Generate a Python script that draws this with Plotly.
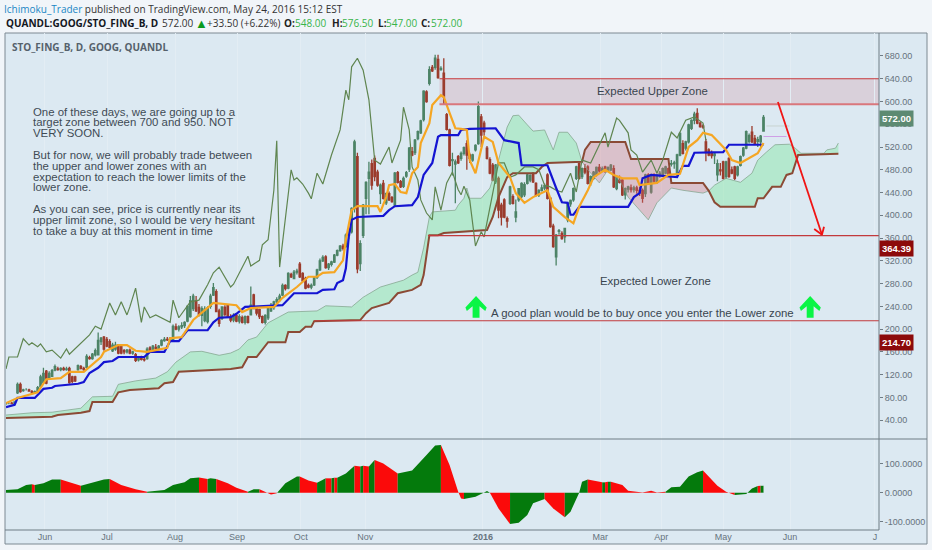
import plotly.graph_objects as go

# daily candles, one per bar
opens = [69,70,70,69,88,103,92,94,93,90,
    89,90,99,106,126,114,117,128,130,129,
    131,129,131,116,116,129,134,131,133,150,
    148,155,155,178,186,182,178,162,165,172,
    170,162,160,163,158,155,146,150,147,148,
    167,162,168,166,172,180,182,181,182,204,
    200,204,206,214,222,236,250,238,224,215,
    213,240,260,266,232,219,238,242,222,216,
    224,214,220,212,222,225,260,236,234,222,
    212,220,232,238,248,252,260,277,272,296,
    289,300,314,298,289,277,274,278,291,304,
    320,327,308,314,318,330,338,346,345,365,
    371,412,503,315,365,430,465,491,500,476,
    438,456,422,438,431,418,475,459,451,469,
    481,512,510,535,545,568,617,632,660,660,
    674,656,650,577,550,496,490,503,500,509,
    526,506,497,515,526,573,562,518,498,488,
    459,465,418,427,394,421,433,397,427,433,
    436,456,462,474,456,436,444,448,471,430,
    381,327,372,368,362,392,420,427,465,491,
    468,482,485,456,465,472,484,478,485,478,
    480,482,447,462,462,436,446,448,445,448,
    444,444,438,471,441,470,459,470,471,474,
    482,490,491,471,506,526,518,529,553,567,
    579,562,557,529,515,510,505,471,480,494,
    468,500,480,485,471,488,506,518,530,546,
    535,530,529,548]
highs = [72,71,72,72,106,106,95,96,95,93,
    92,100,120,132,128,126,130,138,134,133,
    134,134,134,118,118,138,137,134,156,153,
    158,166,194,186,188,186,182,176,178,174,
    172,165,165,166,162,158,152,153,152,168,
    170,172,174,172,182,186,186,186,208,210,
    207,212,214,242,258,262,258,244,240,240,
    240,262,281,270,236,240,242,244,226,228,
    227,226,224,224,224,275,262,240,236,224,
    226,240,246,250,256,262,280,279,300,299,
    304,306,318,300,292,280,280,292,306,324,
    330,330,316,320,332,340,348,350,368,374,
    414,533,510,356,420,460,494,498,505,480,
    456,462,440,442,434,476,478,462,468,478,
    520,520,534,549,568,620,620,662,664,682,
    682,662,676,580,552,510,498,506,512,521,
    532,510,508,525,600,578,566,522,502,492,
    490,468,422,430,398,452,437,428,448,458,
    458,473,472,476,458,446,454,456,474,432,
    385,367,376,372,378,423,428,449,487,493,
    484,490,488,470,478,486,490,486,487,486,
    490,488,470,470,464,449,452,454,452,452,
    450,447,473,474,473,474,473,478,484,487,
    484,497,496,508,546,532,531,561,569,582,
    588,565,560,534,518,514,510,498,492,496,
    496,502,486,487,487,505,520,549,544,557,
    541,538,541,576.5]
lows = [67,68,68,67,86,88,90,92,90,87,
    87,88,97,104,103,112,116,126,127,126,
    127,127,104,105,107,127,129,127,131,146,
    146,152,154,172,162,168,166,160,162,156,
    156,156,157,156,155,142,143,145,143,146,
    158,160,164,163,170,178,179,178,180,198,
    196,200,202,212,220,232,230,222,205,212,
    210,236,258,230,204,216,222,220,212,212,
    212,210,210,208,210,224,235,224,218,210,
    208,216,230,234,244,248,258,268,270,290,
    288,296,290,284,270,272,270,276,288,302,
    318,306,304,310,316,328,336,338,343,358,
    368,405,298,302,360,402,402,445,460,450,
    420,428,418,425,422,416,456,448,448,466,
    476,504,506,532,543,565,598,628,652,656,
    640,654,595,549,486,470,421,490,496,505,
    480,492,494,512,524,520,540,498,472,460,
    455,395,382,395,378,418,419,388,424,430,
    432,454,458,457,433,432,442,444,428,378,
    343,312,366,357,352,388,415,424,462,463,
    464,472,454,452,462,468,474,476,475,476,
    478,448,444,456,434,428,440,440,440,438,
    434,422,432,454,438,456,455,466,468,472,
    469,486,482,468,504,507,514,526,550,560,
    560,554,552,495,504,500,490,460,470,463,
    464,466,472,462,468,486,503,516,526,527,
    524,520,520,547]
closes = [70,70,69,72,103,90,93,94,91,89,
    90,97,116,122,105,122,127,134,129,131,
    129,130,106,108,109,136,131,129,152,148,
    156,162,180,184,165,170,168,172,172,158,
    158,160,163,158,160,145,150,147,146,165,
    160,170,166,170,180,182,181,184,205,200,
    204,206,212,240,250,258,232,226,236,235,
    237,258,273,231,210,239,226,222,216,224,
    214,222,212,222,212,242,236,228,222,212,
    224,238,240,248,252,258,277,271,298,292,
    300,302,292,285,272,274,277,290,304,320,
    326,308,314,318,330,338,346,342,365,371,
    412,529,306,350,418,458,476,453,468,453,
    453,430,438,427,424,474,458,450,465,475,
    518,506,532,547,566,618,600,656,654,676,
    642,658,608,551,488,498,494,492,509,519,
    506,500,506,523,591,541,547,500,474,462,
    488,409,397,397,390,450,421,406,447,456,
    454,471,470,459,435,444,448,452,430,380,
    345,365,373,359,377,421,426,447,485,465,
    482,476,456,468,476,484,478,482,477,484,
    488,450,468,458,436,447,450,445,448,444,
    440,430,471,456,471,460,471,474,482,485,
    471,491,492,506,544,509,529,559,567,578,
    562,556,555,510,506,505,508,491,478,465,
    494,468,474,465,485,503,518,547,540,529,
    526,533,539,572]

# ichimoku lines, (bar, price)
chikou_bars = [0,1,4,6,8,9,11,12,14,16,19,21,22,26,29,31,33,36,38,40,42,43,45,47,48,50,52,57,58,60,64,67,70,72,74,78,79,84,85,88,89,91,93,94,95,99,100,101,103,105,106,108,110,113,116,118,119,120,122,124,126,128,130,133,134,137,138,140,141,143,144,146,148,149,151,153,155,157,158,159,161,163,165,166,167,169,171,173,175,177,180,183,185,187,189,191,193,196,198,200,203,208,209,212,213,216,217,219,221,224,226,228,231,233,236,239,242,243]
chikou_vals = [130,151,151,183,172,176,169,174,160,163,149,165,156,176,190,205,200,246,225,248,225,239,272,212,239,220,225,212,251,220,248,251,278,299,309,274,279,328,311,321,348,357,444,531,309,480,462,466,455,439,429,474,455,506,550,620,603,661,676,655,603,497,490,520,492,532,590,550,485,462,427,404,392,450,409,457,476,445,436,451,427,346,371,362,386,439,492,492,467,471,485,485,480,453,450,444,441,474,441,497,492,545,520,571,567,545,515,506,476,497,474,497,546,536,567,573,562,532]

tenkan_bars = [0,4,11,14,19,22,27,33,34,39,42,45,49,56,57,61,65,72,80,82,85,93,96,101,105,108,110,114,117,118,120,122,129,130,132,133,135,137,139,141,143,144,147,148,151,152,154,156,158,160,161,163,166,169,171,175,177,180,183,188,190,194,197,199,202,204,208,211,214,219,220,226,230,234,237,240,242,245,250,252,255,258,261,263]
tenkan_vals = [70,79,89,112,114,125,125,151,160,172,172,162,160,167,184,186,216,246,242,230,237,239,255,274,292,292,299,300,321,357,409,416,416,406,432,453,455,441,439,474,485,527,562,594,611,608,580,553,552,550,497,474,538,529,492,467,439,422,432,444,415,397,386,415,444,467,480,471,465,465,453,457,471,473,520,532,545,541,515,497,492,501,509,527]

kijun_bars = [0,3,4,10,13,16,17,25,27,29,32,34,37,39,48,50,55,57,60,63,70,72,74,78,80,83,96,100,108,110,114,115,117,118,119,120,122,131,133,135,141,143,145,148,150,151,157,158,161,170,173,178,179,188,191,193,195,196,197,199,216,218,220,221,224,231,233,235,237,239,249,251,263]
kijun_vals = [63,67,79,79,95,97,100,104,107,123,132,142,144,151,151,160,160,179,179,198,198,212,220,221,227,239,242,263,263,269,270,281,286,307,362,392,397,399,409,416,418,432,471,492,538,541,541,550,552,553,532,527,488,488,448,423,422,401,401,415,415,432,439,465,471,467,467,487,487,510,511,524,524]

senkou_a_bars = [0,9,16,26,30,37,39,45,52,56,59,64,68,74,78,81,84,87,91,98,108,111,120,124,130,138,141,143,145,147,148,156,157,159,160,161,165,168,171,174,176,178,181,183,187,190,192,195,198,200,202,206,209,213,216,219,223,226,231,235,242,244,246,250,255,259,261,264,267,272,274,276,284,285,288,289]
senkou_a_vals = [49,53,54,61,81,82,103,109,114,125,142,160,161,154,158,165,181,186,211,230,232,241,239,256,274,286,295,300,343,397,406,409,418,430,448,430,430,448,497,555,575,576,559,548,550,515,546,546,527,494,480,457,480,462,432,415,392,422,448,444,439,443,453,465,458,474,497,511,524,525,518,509,509,515,518,527]

senkou_b_bars = [0,16,18,26,29,30,37,39,43,53,55,58,60,78,82,84,87,91,97,98,102,104,106,107,123,125,127,133,136,141,144,145,147,150,152,167,169,171,174,176,184,186,188,200,201,203,215,217,230,231,242,244,246,248,260,261,263,266,269,271,273,275,289]
senkou_b_vals = [44,46,49,53,56,72,72,89,93,96,105,107,125,130,133,151,151,177,177,195,195,204,204,214,216,228,237,246,263,269,278,295,365,365,369,374,397,432,467,474,474,485,492,494,515,529,529,499,499,457,457,443,423,415,415,430,430,450,450,471,474,506,508]

cloud_turns = [200, 244]

# oscillator pane, colour applies from that point on (1 green, 0 red)
osc_bars = [0,4,7,9,10,13,16,19,23,26,30,34,36,40,45,49,55,58,62,64,67,70,71,73,77,80,84,86,88,91,92,94,97,101,102,105,108,111,113,114,115,118,121,123,124,126,128,131,136,141,146,149,151,154,157,158,159,163,166,167,168,171,175,178,181,183,187,190,194,196,199,200,202,207,208,209,210,214,216,221,224,226,229,231,234,237,240,242,247,250,253,257,259,261,262,263]
osc_vals = [9,12,27,29,27,33,46,46,33,24,36,46,48,27,12,3,9,27,36,50,53,48,50,48,33,17,3,12,12,-2,-6,-2,33,56,56,42,35,50,50,52,52,67,94,91,94,91,114,102,67,77,131,164,166,96,3,-20,-22,-14,1,6,0,-55,-109,-105,-78,-37,-22,-55,-86,-66,0,38,46,36,36,38,38,27,7,1,7,1,3,19,21,56,71,77,24,3,-8,-5,15,23,24,24]
osc_up = [1,1,1,0,1,1,1,0,0,1,1,1,0,0,0,1,1,1,1,1,0,1,1,0,0,0,1,1,0,0,0,1,1,1,0,0,1,0,1,0,1,1,0,1,0,1,0,0,1,1,1,1,0,0,0,0,1,1,1,1,0,0,1,1,1,1,0,0,1,1,1,1,0,1,0,1,0,0,0,0,0,0,1,1,1,1,1,0,0,0,1,1,1,0,1,1]

price_ticks = [40,80,120,160,200,240,280,320,360,400,440,480,520,560,600,640,680]
osc_ticks = [100,0,-100]
osc_tick_text = ["100.0000","0.0000","-100.0000"]
month_bars = [13.5,35.1,58.7,80.2,102.3,124.7,165.6,206.3,227.5,249,272.2,301.7]
month_text = ["Jun","Jul","Aug","Sep","Oct","Nov","<b>2016</b>","Mar","Apr","May","Jun","J"]

upper_zone = [595, 640]
lower_zone = [214.7, 364.39]

paragraph = [
    ("One of these days, we are going up to a", 111.5),
    ("target zone between 700 and 950. NOT", 122.3),
    ("VERY SOON.", 133),
    ("But for now, we will probably trade between", 155),
    ("the upper and lower zones with an", 165.8),
    ("expectation to reach the lower limits of the", 176.6),
    ("lower zone.", 187.4),
    ("As you can see, price is currently near its", 209),
    ("upper limit zone, so I would be very hesitant", 219.8),
    ("to take a buy at this moment in time", 230.6),
]

header = [
    ("<b>QUANDL:GOOG/STO_FING_B, D</b>", 6, "#131722", 10),
    ("572.00", 162, "#333333", 10),
    ("▲", 195, "#0a9a1e", 13),
    ("+33.50 (+6.22%)", 207, "#333333", 10),
    ("<b>O:</b>", 284, "#222222", 10),
    ("548.00", 295, "#37b44a", 10),
    ("<b>H:</b>", 332, "#222222", 10),
    ("576.50", 342, "#37b44a", 10),
    ("<b>L:</b>", 378, "#222222", 10),
    ("547.00", 386, "#37b44a", 10),
    ("<b>C:</b>", 421, "#222222", 10),
    ("572.00", 431, "#37b44a", 10),
]

W, H = 932, 550
BG = "#dce9f2"
SANS = "Liberation Sans"


def px(x):
    return x / W


def py(y):
    return 1 - y / H


def label(text, x, y, size=11.4, color="#39454f", anchor="left", family=SANS, **kw):
    # annotations carry about 2px of padding on the left
    if anchor == "left":
        x -= 2
    return dict(text=text, x=px(x), y=py(y), xref="paper", yref="paper", showarrow=False,
                xanchor=anchor, yanchor="middle", font=dict(size=size, color=color, family=family), **kw)


def slice_points(bars, vals, lo, hi):
    keep = [(b, v) for b, v in zip(bars, vals) if lo <= b <= hi]
    return [k[0] for k in keep], [k[1] for k in keep]


fig = go.Figure()

fig.add_trace(go.Candlestick(
    x=list(range(len(closes))), open=opens, high=highs, low=lows, close=closes,
    increasing=dict(line=dict(color="#4c8366", width=1.3), fillcolor="#4c8366"),
    decreasing=dict(line=dict(color="#9b3b2c", width=1.3), fillcolor="#9b3b2c"),
    whiskerwidth=0, xaxis="x", yaxis="y",
))

# cloud pieces, green until the first turn, red to the second, then green
spans = [(0, cloud_turns[0], "rgba(110,230,140,0.36)"),
         (cloud_turns[0], cloud_turns[1], "rgba(215,110,120,0.32)"),
         (cloud_turns[1], senkou_a_bars[-1], "rgba(110,230,140,0.36)")]
for lo, hi, col in spans:
    ax, ay = slice_points(senkou_a_bars, senkou_a_vals, lo, hi)
    bx, by = slice_points(senkou_b_bars, senkou_b_vals, lo, hi)
    fig.add_trace(go.Scatter(x=ax + bx[::-1], y=ay + by[::-1], mode="lines", fill="toself",
                             fillcolor=col, line=dict(width=0), hoverinfo="skip"))

fig.add_trace(go.Scatter(x=senkou_a_bars, y=senkou_a_vals, mode="lines",
                         line=dict(color="rgba(125,160,135,0.7)", width=1)))
fig.add_trace(go.Scatter(x=senkou_b_bars, y=senkou_b_vals, mode="lines",
                         line=dict(color="#8b4a35", width=2)))
fig.add_trace(go.Scatter(x=chikou_bars, y=chikou_vals, mode="lines",
                         line=dict(color="#5f8550", width=1.2)))
fig.add_trace(go.Scatter(x=kijun_bars, y=kijun_vals, mode="lines",
                         line=dict(color="#1414d2", width=2.2)))
fig.add_trace(go.Scatter(x=tenkan_bars, y=tenkan_vals, mode="lines",
                         line=dict(color="#f5a623", width=2.2)))

# little marks right of the last bar
fig.add_trace(go.Scatter(x=[264, 272], y=[557, 557], mode="lines", line=dict(color="#c9d3d0", width=1)))
fig.add_trace(go.Scatter(x=[263, 271], y=[538.5, 538.5], mode="lines", line=dict(color="#cf9fe6", width=1)))

# oscillator, one filled piece per colour run
start = 0
for i in range(1, len(osc_bars)):
    if i == len(osc_bars) - 1 or osc_up[i] != osc_up[start]:
        fig.add_trace(go.Scatter(
            x=osc_bars[start:i + 1], y=osc_vals[start:i + 1], mode="lines", fill="tozeroy",
            fillcolor="#047a0c" if osc_up[start] else "#fb0a0a", line=dict(width=0), yaxis="y2",
        ))
        start = i

shapes = [
    dict(type="rect", xref="paper", yref="paper", x0=px(5), x1=px(927), y0=py(544), y1=py(33),
         fillcolor=BG, line=dict(color="#7d8992", width=1), layer="below"),
    dict(type="rect", xref="x", yref="y", x0=150.5, x1=303.1, y0=upper_zone[0], y1=upper_zone[1],
         fillcolor="rgba(200,90,100,0.17)", line=dict(width=0), layer="below"),
    dict(type="line", xref="x", yref="y", x0=150.5, x1=303.1, y0=upper_zone[1], y1=upper_zone[1],
         line=dict(color="#c8383c", width=1)),
    dict(type="line", xref="x", yref="y", x0=150.5, x1=303.1, y0=upper_zone[0], y1=upper_zone[0],
         line=dict(color="#d9777c", width=2)),
    dict(type="line", xref="x", yref="y", x0=146.5, x1=303.1, y0=lower_zone[1], y1=lower_zone[1],
         line=dict(color="#c23a3c", width=1.2)),
    dict(type="line", xref="x", yref="y", x0=107, x1=303.1, y0=lower_zone[0], y1=lower_zone[0],
         line=dict(color="#c23a3c", width=1.2)),
    # red arrow
    dict(type="line", xref="x", yref="y", x0=268, x1=283.3, y0=599, y1=366, line=dict(color="#f01414", width=1.8)),
    dict(type="line", xref="x", yref="y", x0=280.6, x1=283.3, y0=376, y1=366, line=dict(color="#f01414", width=1.8)),
    dict(type="line", xref="x", yref="y", x0=284, x1=283.3, y0=380, y1=366, line=dict(color="#f01414", width=1.8)),
    # frame lines
    dict(type="line", xref="paper", yref="paper", x0=px(5), x1=px(927), y0=py(439), y1=py(439),
         line=dict(color="#6f7c85", width=1)),
    dict(type="line", xref="paper", yref="paper", x0=px(5), x1=px(879), y0=py(530), y1=py(530),
         line=dict(color="#6f7c85", width=1)),
    dict(type="line", xref="paper", yref="paper", x0=px(879), x1=px(879), y0=py(530), y1=py(33),
         line=dict(color="#6f7c85", width=1)),
]

# two green buy arrows
for c in [163.2, 279.2]:
    pts = [(c, 258), (c + 3.7, 238), (c + 3.2, 232), (c + 1.2, 240), (c + 1.2, 220), (c - 1.2, 220),
           (c - 1.2, 240), (c - 3.2, 232), (c - 3.7, 238)]
    shapes.append(dict(type="path", xref="x", yref="y", fillcolor="#0af545", line=dict(width=0),
                       path="M" + " L".join(f"{a},{b}" for a, b in pts) + " Z"))

annotations = [
    label('<span style="color:#1b87c5">Ichimoku_Trader</span> published on TradingView.com, May 24, 2016 15:12 EST',
          4, 9, size=10, color="#333333", family="Open Sans"),
    label("<b>STO_FING_B, D, GOOG, QUANDL</b>", 12, 47, size=10, color="#55616b", family="Open Sans"),
    label("Expected Upper Zone", 652, 91, anchor="center"),
    label("Expected Lower Zone", 655, 281, anchor="center"),
    label("A good plan would be to buy once you enter the Lower zone", 491, 312.5),
    label("<b>572.00</b>", 881, 118, size=9.5, color="#ffffff", bgcolor="#5d8a72", borderpad=2),
    label("<b>364.39</b>", 881, 248.5, size=9.5, color="#ffffff", bgcolor="#8c0a0a", borderpad=2),
    label("<b>214.70</b>", 881, 342.5, size=9.5, color="#ffffff", bgcolor="#8c0a0a", borderpad=2),
]
for text, y in paragraph:
    annotations.append(label(text, 33, y, color="#3f4b55"))
for text, x, col, size in header:
    annotations.append(label(text, x, 23, size=size, color=col, family="Open Sans"))

fig.update_layout(
    width=W, height=H,
    margin=dict(l=0, r=0, t=0, b=0),
    paper_bgcolor="#f1f5f9",
    plot_bgcolor="rgba(0,0,0,0)",
    showlegend=False,
    hovermode=False,
    shapes=shapes,
    annotations=annotations,
    xaxis=dict(
        domain=[px(6), px(879)], range=[0, 303.1], anchor="y2",
        rangeslider=dict(visible=False),
        tickvals=month_bars, ticktext=month_text, ticks="",
        tickfont=dict(size=9, color="#66737d", family=SANS),
        showgrid=True, gridcolor="#e3edf4", gridwidth=1, zeroline=False, showline=False,
    ),
    yaxis=dict(
        domain=[py(439), py(33)], range=[6.9, 720.4], side="right", anchor="x",
        tickvals=price_ticks, tickformat=".2f", ticks="outside", ticklen=3, tickcolor="#6f7c85",
        tickfont=dict(size=9, color="#66737d", family=SANS),
        showgrid=False, zeroline=False, showline=False,
    ),
    yaxis2=dict(
        domain=[py(530), py(439)], range=[-130, 187], side="right", anchor="x",
        tickvals=osc_ticks, ticktext=osc_tick_text, ticks="outside", ticklen=3, tickcolor="#6f7c85",
        tickfont=dict(size=9, color="#66737d", family=SANS),
        showgrid=False, zeroline=False, showline=False,
    ),
)

# the page margin would push the figure 8px in
fig.write_html("out.html", config={"displayModeBar": False},
               post_script="document.body.style.margin='0';")
